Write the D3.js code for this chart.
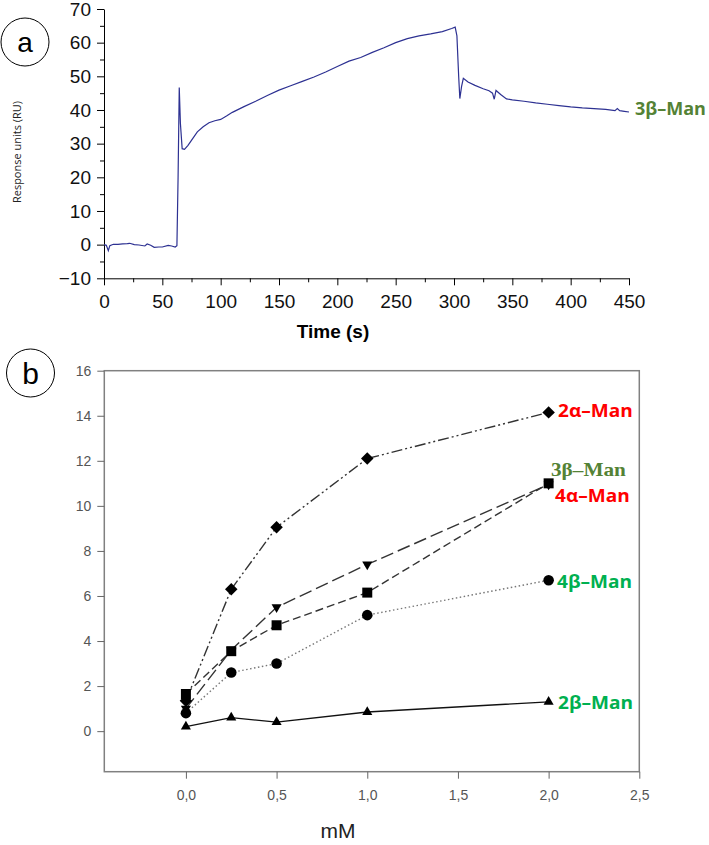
<!DOCTYPE html>
<html>
<head>
<meta charset="utf-8">
<script src="https://cdn.jsdelivr.net/npm/d3@7"></script>
<style>
  body { margin: 0; background: #fff; }
  svg { display: block; }
</style>
</head>
<body>
<div class="main"></div>
<script>
// Panel a: sensorgram (time in s, response in RU)
const timeA = [0, 2, 3.7, 5, 8, 12, 16, 20, 22, 26, 30, 35, 37, 40, 43, 47, 50, 55, 58, 61, 62.5, 63.5, 64.5, 65.5,
  67, 69, 72, 76, 80, 85, 90, 95, 100, 105, 110, 120, 130, 140, 150, 160, 170, 180, 190, 200, 210, 220, 230, 240,
  250, 260, 270, 280, 290, 298, 301, 302.5, 304, 305, 306.5, 308, 312, 318, 325, 330, 333, 334.5, 336, 340, 345,
  350, 360, 370, 380, 390, 400, 410, 420, 430, 438, 440, 442, 446, 450]
const respA = [0, -0.2, -1.8, -0.3, 0.1, 0.1, 0.2, 0.3, 0.4, 0, -0.1, -0.4, 0.2, -0.2, -0.8, -0.7, -0.7, -0.2, -0.4, -0.7, -0.3, 20, 46.7, 36,
  28.5, 28.3, 29.5, 31.5, 33.5, 35, 36.2, 36.8, 37.2, 38.2, 39.3, 41, 42.6, 44.3, 45.9, 47.2, 48.5, 49.8, 51.3, 52.9, 54.5, 55.6, 57.1, 58.5,
  60, 61.2, 62, 62.6, 63.3, 64.2, 64.6, 62, 50, 43.4, 47, 49.4, 48.3, 47.3, 46.3, 45.7, 45, 43.2, 45.8, 44.6, 43.3,
  43, 42.6, 42.1, 41.7, 41.3, 40.9, 40.6, 40.4, 40.2, 39.8, 40.4, 39.8, 39.6, 39.4]
const ticksXA = [0, 50, 100, 150, 200, 250, 300, 350, 400, 450]
const ticksYA = [-10, 0, 10, 20, 30, 40, 50, 60, 70]

// Panel b: response vs concentration (mM)
const conc = [0, 0.25, 0.5, 1, 2]
const man2a = [1.35, 6.3, 9.05, 12.1, 14.15]
const man3b = [1.0, 3.6, 5.5, 7.4, 10.95]
const man4a = [1.65, 3.55, 4.7, 6.15, 11.0]
const man4b = [0.8, 2.6, 3.0, 5.15, 6.7]
const man2b = [0.2, 0.6, 0.4, 0.85, 1.3]
const ticksXB = [0, 0.5, 1, 1.5, 2, 2.5]
const ticksYB = [0, 2, 4, 6, 8, 10, 12, 14, 16]

const width = 709
const height = 845
const sans = "'Liberation Sans', Arial, sans-serif"

const svg = d3.select('.main')
  .append("svg")
    .attr("width", width)
    .attr("height", height)
    .attr("viewBox", [0, 0, width, height])

function panelTag(cx, cy, r, letter, size, dy) {
  svg.append("circle")
    .attr("cx", cx).attr("cy", cy).attr("r", r)
    .attr("fill", "none").attr("stroke", "#000").attr("stroke-width", 1)
  svg.append("text")
    .attr("x", cx).attr("y", cy + dy)
    .attr("text-anchor", "middle")
    .attr("font-family", sans)
    .attr("font-size", size)
    .text(letter)
}

function showPanelA() {
  const x = d3.scaleLinear().domain([0, 450]).range([104, 629])
  const y = d3.scaleLinear().domain([-10, 70]).range([278.3, 9])

  panelTag(25, 42, 24, "a", 28, 10)

  // minor ticks first, no labels
  svg.append("g")
    .attr("transform", `translate(0, ${y(-10)})`)
    .call(d3.axisBottom(x).tickValues(d3.range(25, 450, 50)).tickSize(4).tickFormat(""))
    .call(g => g.select(".domain").remove())
  svg.append("g")
    .attr("transform", `translate(${x(0)}, 0)`)
    .call(d3.axisLeft(y).tickValues(d3.range(-5, 70, 10)).tickSize(4).tickFormat(""))
    .call(g => g.select(".domain").remove())

  svg.append("g")
    .attr("transform", `translate(0, ${y(-10)})`)
    .call(d3.axisBottom(x).tickValues(ticksXA).tickSize(7).tickSizeOuter(0).tickPadding(9))
    .call(g => g.selectAll("text").attr("font-family", sans).attr("font-size", 19).attr("fill", "#111"))

  svg.append("g")
    .attr("transform", `translate(${x(0)}, 0)`)
    .call(d3.axisLeft(y).tickValues(ticksYA).tickSize(7).tickSizeOuter(0).tickPadding(6))
    .call(g => g.selectAll("text").attr("font-family", sans).attr("font-size", 19).attr("fill", "#111"))

  const line = d3.line()
    .x((d, i) => x(timeA[i]))
    .y(d => y(d))

  svg.append("path")
    .datum(respA)
    .attr("d", line)
    .attr("fill", "none")
    .attr("stroke", "#2d3192")
    .attr("stroke-width", 1.2)

  svg.append("text")
    .attr("transform", "translate(21, 152) rotate(-90)")
    .attr("text-anchor", "middle")
    .attr("font-family", "'Open Sans', sans-serif")
    .attr("font-size", 11)
    .attr("fill", "#222")
    .text("Response units (RU)")

  svg.append("text")
    .attr("x", 333).attr("y", 338)
    .attr("text-anchor", "middle")
    .attr("font-family", sans)
    .attr("font-weight", "bold")
    .attr("font-size", 19)
    .text("Time (s)")

  svg.append("text")
    .attr("x", 635).attr("y", 115)
    .attr("font-family", "'Open Sans', sans-serif")
    .attr("font-weight", "bold")
    .attr("font-size", 18)
    .attr("fill", "#548235")
    .text("3β–Man")
}

function showPanelB() {
  const x = d3.scaleLinear().domain([-0.45, 2.5]).range([104.3, 639.3])
  const y = d3.scaleLinear().domain([-1.8, 16]).range([771.7, 370.7])

  panelTag(30.5, 373, 24, "b", 30, 11)

  // frame
  svg.append("rect")
    .attr("x", x(-0.45)).attr("y", y(16))
    .attr("width", x(2.5) - x(-0.45)).attr("height", y(-1.8) - y(16))
    .attr("fill", "none").attr("stroke", "#808080").attr("stroke-width", 1.5)

  svg.append("g")
    .attr("transform", `translate(0, ${y(-1.8)})`)
    .call(d3.axisBottom(x).tickValues(ticksXB).tickSize(7).tickSizeOuter(0).tickPadding(11)
      .tickFormat(d => d3.format(".1f")(d).replace(".", ",")))
    .call(g => g.select(".domain").remove())
    .call(g => g.selectAll("line").attr("stroke", "#666"))
    .call(g => g.selectAll("text").attr("font-family", sans).attr("font-size", 14).attr("fill", "#555"))

  svg.append("g")
    .attr("transform", `translate(${x(-0.45)}, 0)`)
    .call(d3.axisLeft(y).tickValues(ticksYB).tickSize(7).tickSizeOuter(0).tickPadding(6))
    .call(g => g.select(".domain").remove())
    .call(g => g.selectAll("line").attr("stroke", "#666"))
    .call(g => g.selectAll("text").attr("font-family", sans).attr("font-size", 14).attr("fill", "#555"))

  const series = [
    {name: "2β", vals: man2b, dash: null, stroke: "#111", sym: d3.symbolTriangle, size: 44, rot: 0},
    {name: "4β", vals: man4b, dash: "1.5,2.5", stroke: "#777", sym: d3.symbolCircle, size: 88, rot: 0},
    {name: "4α", vals: man4a, dash: "8,4", stroke: "#333", sym: d3.symbolSquare, size: 100, rot: 0},
    {name: "3β", vals: man3b, dash: "13,5", stroke: "#333", sym: d3.symbolTriangle, size: 44, rot: 180},
    {name: "2α", vals: man2a, dash: "11,3,2,3,2,3", stroke: "#333", sym: d3.symbolSquare, size: 78, rot: 45}
  ]

  const line = d3.line()
    .x((d, i) => x(conc[i]))
    .y(d => y(d))

  svg.append("g")
    .selectAll("path")
    .data(series)
    .join("path")
      .attr("d", d => line(d.vals))
      .attr("fill", "none")
      .attr("stroke", d => d.stroke)
      .attr("stroke-width", 1.4)
      .attr("stroke-dasharray", d => d.dash)

  series.forEach(s => {
    svg.append("g")
      .selectAll("path")
      .data(s.vals)
      .join("path")
        .attr("d", d3.symbol().type(s.sym).size(s.size))
        .attr("transform", (d, i) => `translate(${x(conc[i])}, ${y(d)}) rotate(${s.rot})`)
        .attr("fill", "#000")
  })

  // series labels (the original figure is a bit stretched sideways)
  const labels = [
    {text: "2α–Man", x: 558, y: 417, color: "#ff0000", font: "'Open Sans', sans-serif", sx: 1.06},
    {text: "3β–Man", x: 551, y: 476, color: "#548235", font: "'Liberation Serif', 'Times New Roman', serif", sx: 1.18},
    {text: "4α–Man", x: 555, y: 501.5, color: "#ff0000", font: "'Open Sans', sans-serif", sx: 1.06},
    {text: "4β–Man", x: 557, y: 587.5, color: "#00b050", font: "'Open Sans', sans-serif", sx: 1.06},
    {text: "2β–Man", x: 558, y: 708.5, color: "#00b050", font: "'Open Sans', sans-serif", sx: 1.06}
  ]
  svg.append("g")
    .selectAll("text")
    .data(labels)
    .join("text")
      .attr("transform", d => `translate(${d.x}, ${d.y}) scale(${d.sx}, 1)`)
      .attr("font-family", d => d.font)
      .attr("font-weight", "bold")
      .attr("font-size", 18)
      .attr("fill", d => d.color)
      .text(d => d.text)

  svg.append("text")
    .attr("x", 338).attr("y", 838)
    .attr("text-anchor", "middle")
    .attr("font-family", sans)
    .attr("font-size", 21)
    .attr("fill", "#222")
    .text("mM")
}

showPanelA()
showPanelB()
</script>
</body>
</html>
